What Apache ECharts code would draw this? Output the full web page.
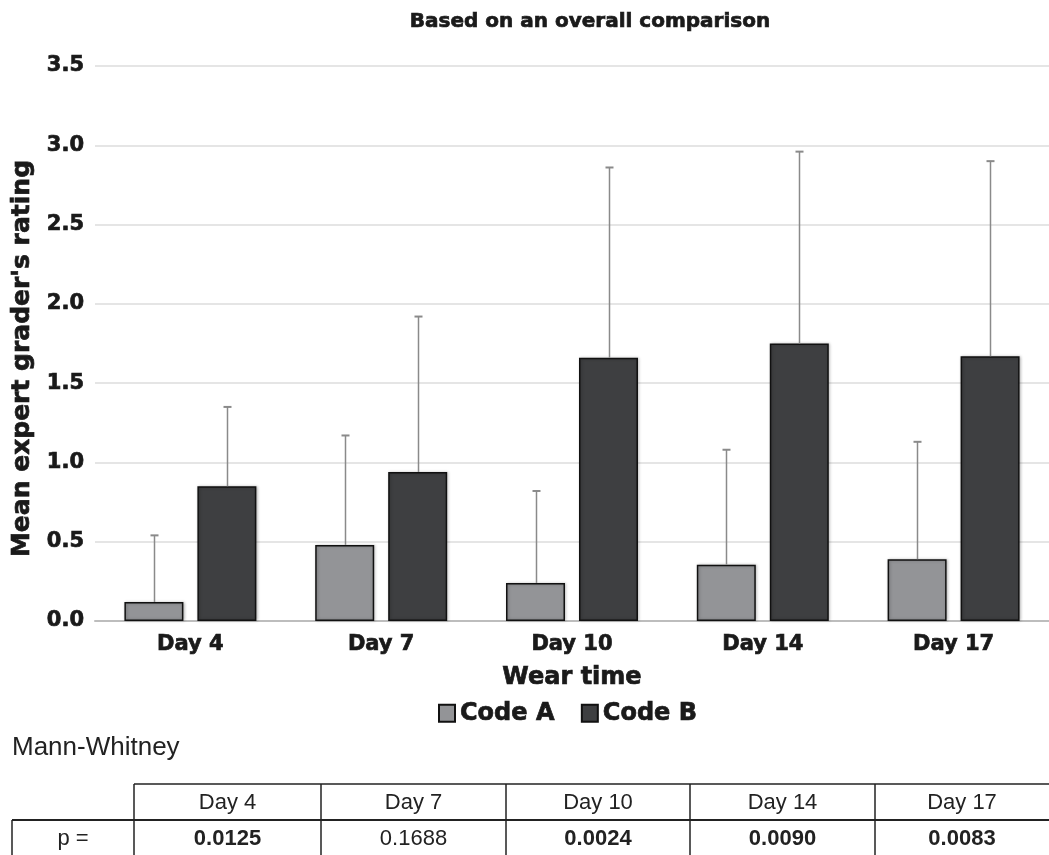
<!DOCTYPE html>
<html>
<head>
<meta charset="utf-8">
<script src="https://cdn.jsdelivr.net/npm/echarts@6/dist/echarts.min.js"></script>
<style>
html,body{margin:0;padding:0;background:#fff;}
#chart{width:1049px;height:855px;}
</style>
</head>
<body>
<div id="chart"></div>
<script>
const categories = ['Day 4', 'Day 7', 'Day 10', 'Day 14', 'Day 17'];
const codeA = [0.12, 0.48, 0.24, 0.355, 0.39];
const codeB = [0.85, 0.94, 1.66, 1.75, 1.67];
const codeAUpper = [0.54, 1.17, 0.82, 1.08, 1.13];
const codeBUpper = [1.35, 1.92, 2.86, 2.96, 2.90];
const seriesNames = ['Code A', 'Code B'];
const pLabel = 'p =';
const pValues = ['0.0125', '0.1688', '0.0024', '0.0090', '0.0083'];

const HEAVY = '"DejaVu Sans", sans-serif';
const TXT = '"Liberation Sans", Arial, sans-serif';
const INK = '#1a1a1a';
const heavy = function (size) {
  return { fontFamily: HEAVY, fontWeight: 'bold', fontSize: size, color: INK, textBorderColor: INK, textBorderWidth: 0.7 };
};
const BAR_W = 59;
const GAP = 14;
const OFF = (BAR_W + GAP) / 2;

function errRender(offset) {
  return function (params, api) {
    const x = api.value(0);
    const top = api.coord([x, api.value(1)]);
    const base = api.coord([x, api.value(2)]);
    const cx = Math.round(top[0] + offset) + 0.5;
    return {
      type: 'group',
      children: [
        { type: 'line', shape: { x1: cx, y1: base[1], x2: cx, y2: top[1] }, style: { stroke: '#8a8a8a', lineWidth: 1.5 } },
        { type: 'line', shape: { x1: cx - 4, y1: top[1], x2: cx + 4, y2: top[1] }, style: { stroke: '#8a8a8a', lineWidth: 2 } }
      ]
    };
  };
}

// table layout
const tblColX = [12, 134, 321, 506, 690, 875, 1049];
const tblRowY = [784, 820, 860];
const graphics = [];
graphics.push({ type: 'text', left: 12, top: 735, style: { text: 'Mann-Whitney', font: '26px ' + TXT, fill: '#222' } });
graphics.push({ type: 'line', shape: { x1: tblColX[1], y1: tblRowY[0], x2: 1049, y2: tblRowY[0] }, style: { stroke: '#222', lineWidth: 1.5 } });
graphics.push({ type: 'line', shape: { x1: tblColX[0], y1: tblRowY[1], x2: 1049, y2: tblRowY[1] }, style: { stroke: '#222', lineWidth: 2 } });
graphics.push({ type: 'line', shape: { x1: tblColX[0], y1: tblRowY[1], x2: tblColX[0], y2: tblRowY[2] }, style: { stroke: '#222', lineWidth: 1.5 } });
for (let i = 1; i < tblColX.length - 1; i++) {
  graphics.push({ type: 'line', shape: { x1: tblColX[i], y1: tblRowY[0], x2: tblColX[i], y2: tblRowY[2] }, style: { stroke: '#222', lineWidth: 1.5 } });
}
graphics.push({ type: 'text', x: (tblColX[0] + tblColX[1]) / 2, y: 839, style: { text: pLabel, font: '22px ' + TXT, fill: '#222', align: 'center', verticalAlign: 'middle' } });
categories.forEach(function (c, i) {
  const cx = (tblColX[i + 1] + tblColX[i + 2]) / 2;
  graphics.push({ type: 'text', x: cx, y: (tblRowY[0] + tblRowY[1]) / 2 + 1, style: { text: c, font: '22px ' + TXT, fill: '#222', align: 'center', verticalAlign: 'middle' } });
  const sig = parseFloat(pValues[i]) < 0.05;
  graphics.push({ type: 'text', x: cx, y: 839, style: { text: pValues[i], font: (sig ? 'bold ' : '') + '22px ' + TXT, fill: '#222', align: 'center', verticalAlign: 'middle' } });
});

const chart = echarts.init(document.getElementById('chart'), null, { renderer: 'canvas' });
chart.setOption({
  animation: false,
  backgroundColor: '#fff',
  title: {
    text: 'Based on an overall comparison',
    left: 585, top: 7, textAlign: 'center',
    textStyle: heavy(20)
  },
  legend: {
    data: seriesNames,
    left: 433, top: 696,
    icon: 'rect', itemWidth: 16, itemHeight: 17, itemGap: 26,
    textStyle: heavy(24)
  },
  grid: { left: 95, right: -3, top: 66, bottom: 234, containLabel: false },
  xAxis: {
    type: 'category', data: categories,
    name: 'Wear time', nameLocation: 'middle', nameGap: 45,
    nameTextStyle: heavy(24),
    axisLine: { lineStyle: { color: '#bdbdbd', width: 2 } },
    axisTick: { show: false },
    axisLabel: Object.assign(heavy(21), { margin: 13 })
  },
  yAxis: {
    type: 'value', min: 0, max: 3.5, interval: 0.5,
    name: "Mean expert grader's rating", nameLocation: 'middle', nameGap: 58, nameRotate: 90,
    nameTextStyle: Object.assign(heavy(25), { padding: [0, 0, 0, -30] }),
    axisLine: { show: false }, axisTick: { show: false },
    axisLabel: Object.assign(heavy(21), { formatter: function (v) { return v.toFixed(1); }, margin: 11 }),
    splitLine: { lineStyle: { color: '#dcdcdc', width: 1.5 } }
  },
  series: [
    {
      name: seriesNames[0], type: 'bar', data: codeA, barWidth: BAR_W, barGap: (GAP / BAR_W * 100).toFixed(1) + '%',
      itemStyle: { color: '#939497', borderColor: '#111', borderWidth: 1.5, shadowColor: 'rgba(0,0,0,0.25)', shadowBlur: 3, shadowOffsetX: 1 }
    },
    {
      name: seriesNames[1], type: 'bar', data: codeB, barWidth: BAR_W,
      itemStyle: { color: '#3e3f41', borderColor: '#111', borderWidth: 1.5, shadowColor: 'rgba(0,0,0,0.25)', shadowBlur: 3, shadowOffsetX: 1 }
    },
    {
      type: 'custom', renderItem: errRender(-OFF), z: 5, silent: true,
      data: categories.map(function (c, i) { return [i, codeAUpper[i], codeA[i]]; })
    },
    {
      type: 'custom', renderItem: errRender(OFF), z: 5, silent: true,
      data: categories.map(function (c, i) { return [i, codeBUpper[i], codeB[i]]; })
    }
  ],
  graphic: graphics
});
</script>
</body>
</html>
